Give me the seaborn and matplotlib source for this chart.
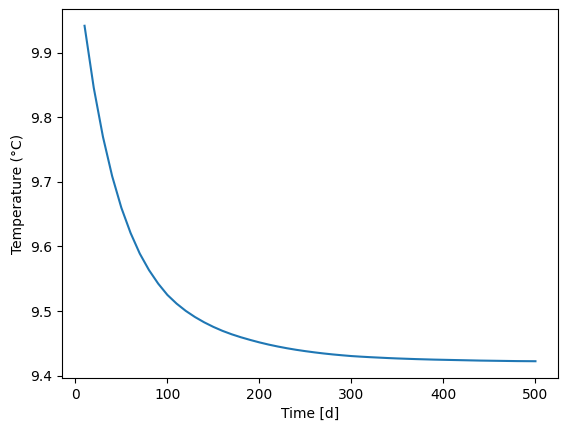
import pandas as pd
import matplotlib
matplotlib.use('Agg')
import matplotlib.pyplot as plt
import seaborn as sns

# values
time_d = [10, 20, 30, 40, 50, 60, 70, 80, 90, 100,
          110, 120, 130, 140, 150, 160, 170, 180, 190, 200,
          210, 220, 230, 240, 250, 260, 270, 280, 290, 300,
          310, 320, 330, 340, 350, 360, 370, 380, 390, 400,
          410, 420, 430, 440, 450, 460, 470, 480, 490, 500]
temp_c = [9.942, 9.846, 9.770, 9.709, 9.660, 9.621, 9.589, 9.5635, 9.5425, 9.525,
          9.5115, 9.5002, 9.4907, 9.4825, 9.4754, 9.4692, 9.4639, 9.4593, 9.4552, 9.4514,
          9.4480, 9.4450, 9.4423, 9.4399, 9.4378, 9.4359, 9.4342, 9.4327, 9.4314, 9.4302,
          9.4293, 9.4285, 9.4278, 9.4271, 9.4265, 9.4260, 9.4255, 9.4251, 9.4247, 9.4244,
          9.4241, 9.4238, 9.4235, 9.4232, 9.4230, 9.4228, 9.4226, 9.4224, 9.4223, 9.4222]

df = pd.DataFrame({'Time': time_d, 'Temperature': temp_c})

fig = plt.figure(figsize=(5.67, 4.32), dpi=100)
ax = fig.add_axes([62 / 567, 54 / 432, 496 / 567, 369 / 432])
sns.lineplot(data=df, x='Time', y='Temperature', ax=ax, color='#1f77b4')
ax.set_xlabel('Time [d]')
ax.set_ylabel('Temperature (°C)')
fig.savefig('out.png', dpi=100)
